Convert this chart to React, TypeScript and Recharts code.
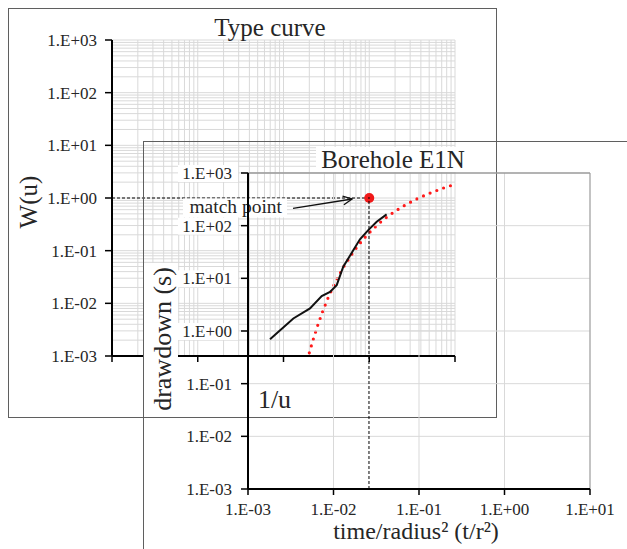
import React from "react";
import {
  CartesianGrid,
  ComposedChart,
  Line,
  ReferenceDot,
  ReferenceLine,
  XAxis,
  YAxis,
} from "recharts";

const PAGE_W = 627;
const PAGE_H = 549;
const SERIF = '"Liberation Serif", "Times New Roman", Times, serif';
const INK = "#262626";
const FRAME = "#5f5f5f";
const GRID = "#d9d9d9";

// Type curve: Theis well function W(u) against 1/u
const INV_U = [0.2, 0.2222, 0.25, 0.2857, 0.3333, 0.4, 0.5, 0.6667, 0.8333, 1, 1.25, 1.4286, 1.6667, 2, 2.5, 3.3333, 4, 5, 7.1429, 10];
const W_U = [0.001148, 0.002073, 0.003779, 0.00697, 0.01305, 0.02491, 0.0489, 0.1, 0.1584, 0.2194, 0.3106, 0.3738, 0.4544, 0.5598, 0.7024, 0.9057, 1.0443, 1.2227, 1.524, 1.8229];

// Borehole E1N: drawdown against time/radius²
const T_R2 = [0.00181, 0.00339, 0.00531, 0.00728, 0.0091, 0.0109, 0.013, 0.0171, 0.0204, 0.0255, 0.032, 0.0418];
const DRAWDOWN = [0.7, 1.73, 2.68, 4.59, 5.53, 7.43, 16.6, 34.4, 55, 82.4, 119, 164];

// match point, in both sets of axes
const MATCH_INV_U = 1;
const MATCH_W = 1;
const MATCH_T_R2 = 0.026;
const MATCH_S = 350;
const ARROW_FROM = { x: 0.00336, y: 212 };
const ARROW_TO = { x: 0.0165, y: 321 };

const X_TICKS = [0.001, 0.01, 0.1, 1, 10];
const Y_TICKS = [0.001, 0.01, 0.1, 1, 10, 100, 1000];
const MINOR_STEPS = [2, 3, 4, 5, 6, 7, 8, 9];

// minor log grid: 2..9 inside every decade
const minorGrid = (ticks: number[]) =>
  ticks.slice(0, -1).flatMap((d) => MINOR_STEPS.map((m) => Number((m * d).toPrecision(3))));

const fmtExp = (v: number) => {
  const e = Math.round(Math.log10(v));
  return `1.E${e < 0 ? "-" : "+"}${String(Math.abs(e)).padStart(2, "0")}`;
};

const typeData = INV_U.map((x, i) => ({ invU: x, w: W_U[i] }));
const boreData = T_R2.map((x, i) => ({ t: x, s: DRAWDOWN[i] }));

const textStyle = { fontFamily: SERIF, fill: INK };

const NoTick = () => <g />;

const TypeYTick = ({ x, y, payload }: any) => (
  <text x={x} y={y} dy="0.35em" textAnchor="end" fontSize={17} style={textStyle}>
    {fmtExp(payload.value)}
  </text>
);

const BoreYTick = ({ x, y, payload }: any) => (
  <g>
    <rect x={x - 54} y={y - 8} width={60} height={17} fill="#fff" />
    <text x={x} y={y} dy="0.35em" textAnchor="end" fontSize={17} style={textStyle}>
      {fmtExp(payload.value)}
    </text>
  </g>
);

const BoreXTick = ({ x, y, payload }: any) => (
  <text x={x} y={y} dy="0.71em" textAnchor="middle" fontSize={17} style={textStyle}>
    {fmtExp(payload.value)}
  </text>
);

const MatchArrow = ({ x1, y1, x2, y2 }: any) => {
  const a = Math.atan2(y2 - y1, x2 - x1);
  const len = 10;
  const spread = 0.45;
  const hx1 = x2 - len * Math.cos(a - spread);
  const hy1 = y2 - len * Math.sin(a - spread);
  const hx2 = x2 - len * Math.cos(a + spread);
  const hy2 = y2 - len * Math.sin(a + spread);
  return (
    <g>
      <rect x={x1 - 110} y={y1 - 10} width={104} height={19} fill="#fff" />
      <text x={x1 - 11} y={y1 + 5} textAnchor="end" fontSize={19.5} style={textStyle}>
        match point
      </text>
      <line x1={x1} y1={y1} x2={x2} y2={y2} stroke="#111" strokeWidth={1.3} />
      <polyline
        points={`${hx1},${hy1} ${x2},${y2} ${hx2},${hy2}`}
        fill="none"
        stroke="#111"
        strokeWidth={1.3}
      />
    </g>
  );
};

function TypeCurveChart() {
  return (
    <ComposedChart
      width={PAGE_W}
      height={PAGE_H}
      data={typeData}
      margin={{ top: 40, right: 172, bottom: 133, left: 12 }}
    >
      <CartesianGrid stroke={GRID} />
      {minorGrid(Y_TICKS).map((v) => (
        <ReferenceLine key={`h${v}`} y={v} stroke={GRID} strokeWidth={1} />
      ))}
      {minorGrid(X_TICKS).map((v) => (
        <ReferenceLine key={`v${v}`} x={v} stroke={GRID} strokeWidth={1} />
      ))}
      <XAxis
        dataKey="invU"
        type="number"
        scale="log"
        domain={[0.001, 10]}
        ticks={X_TICKS}
        allowDataOverflow
        height={60}
        tickSize={6}
        tick={NoTick}
        axisLine={{ stroke: "#000", strokeWidth: 2 }}
        tickLine={{ stroke: "#000", strokeWidth: 1.5 }}
        label={(p: any) => {
          const vb = p.viewBox;
          return (
            <text x={vb.x + vb.width / 2 - 9} y={vb.y + 52} textAnchor="middle" fontSize={26} style={textStyle}>
              1/u
            </text>
          );
        }}
      />
      <YAxis
        type="number"
        scale="log"
        domain={[0.001, 1000]}
        ticks={Y_TICKS}
        allowDataOverflow
        width={100}
        tickSize={7}
        tickMargin={8}
        tick={TypeYTick}
        axisLine={{ stroke: "#000", strokeWidth: 2 }}
        tickLine={{ stroke: "#000", strokeWidth: 1.5 }}
        label={(p: any) => {
          const vb = p.viewBox;
          const cx = vb.x + 25;
          const cy = vb.y + vb.height / 2 + 4;
          return (
            <text x={cx} y={cy} transform={`rotate(-90 ${cx} ${cy})`} textAnchor="middle" fontSize={25} style={textStyle}>
              W(u)
            </text>
          );
        }}
      />
      <ReferenceLine
        segment={[
          { x: 0.001, y: MATCH_W },
          { x: MATCH_INV_U, y: MATCH_W },
        ]}
        stroke="#000"
        strokeWidth={1}
        strokeDasharray="3 2"
      />
      <Line
        dataKey="w"
        type="linear"
        stroke="#ff1a1a"
        strokeWidth={3.2}
        strokeDasharray="0 7.2"
        strokeLinecap="round"
        dot={false}
        isAnimationActive={false}
      />
      <ReferenceDot x={MATCH_INV_U} y={MATCH_W} r={5} fill="#f01818" stroke="none" />
      <text x={270} y={36} textAnchor="middle" fontSize={25} style={textStyle}>
        Type curve
      </text>
    </ComposedChart>
  );
}

function BoreholeChart() {
  return (
    <ComposedChart
      width={PAGE_W}
      height={PAGE_H}
      data={boreData}
      margin={{ top: 173, right: 37, bottom: 0, left: 148 }}
    >
      <rect x={316} y={147} width={156} height={25} fill="#fff" />
      <text x={393} y={168} textAnchor="middle" fontSize={25} style={textStyle}>
        Borehole E1N
      </text>
      <CartesianGrid stroke={GRID} />
      <ReferenceLine y={1000} stroke="#7a7a7a" strokeWidth={1.2} />
      <ReferenceLine x={10} stroke="#9a9a9a" strokeWidth={1} />
      <ReferenceLine
        segment={[
          { x: MATCH_T_R2, y: 0.001 },
          { x: MATCH_T_R2, y: MATCH_S },
        ]}
        stroke="#000"
        strokeWidth={1}
        strokeDasharray="3 2"
      />
      <Line
        dataKey="s"
        type="linear"
        stroke="#111"
        strokeWidth={2}
        dot={false}
        isAnimationActive={false}
      />
      <XAxis
        dataKey="t"
        type="number"
        scale="log"
        domain={[0.001, 10]}
        ticks={X_TICKS}
        allowDataOverflow
        height={60}
        tickSize={6}
        tickMargin={8}
        tick={BoreXTick}
        axisLine={{ stroke: "#000", strokeWidth: 2 }}
        tickLine={{ stroke: "#000", strokeWidth: 1.5 }}
        label={(p: any) => {
          const vb = p.viewBox;
          return (
            <text x={vb.x + vb.width / 2 - 3} y={vb.y + 50} textAnchor="middle" fontSize={24} style={textStyle}>
              time/radius² (t/r²)
            </text>
          );
        }}
      />
      <YAxis
        type="number"
        scale="log"
        domain={[0.001, 1000]}
        ticks={Y_TICKS}
        allowDataOverflow
        width={100}
        tickSize={7}
        tickMargin={9}
        tick={BoreYTick}
        axisLine={{ stroke: "#000", strokeWidth: 2 }}
        tickLine={{ stroke: "#000", strokeWidth: 1.5 }}
        label={(p: any) => {
          const vb = p.viewBox;
          const cx = vb.x + 23;
          const cy = vb.y + vb.height / 2 + 8;
          return (
            <g>
              <rect x={vb.x - 4} y={cy - 76} width={34} height={150} fill="#fff" />
              <text x={cx} y={cy} transform={`rotate(-90 ${cx} ${cy})`} textAnchor="middle" fontSize={26} style={textStyle}>
                drawdown (s)
              </text>
            </g>
          );
        }}
      />
      <ReferenceLine segment={[ARROW_FROM, ARROW_TO]} shape={MatchArrow} />
    </ComposedChart>
  );
}

export default function App() {
  const layer = { position: "absolute" as const, left: 0, top: 0 };
  return (
    <div style={{ position: "absolute", left: 0, top: 0, width: PAGE_W, height: PAGE_H, overflow: "hidden", background: "#fff" }}>
      <div style={{ position: "absolute", left: 8, top: 8, width: 489, height: 410, boxSizing: "border-box", border: `1px solid ${FRAME}` }} />
      <div style={layer}>
        <TypeCurveChart />
      </div>
      <div style={{ position: "absolute", left: 143, top: 141, width: 600, height: 500, borderLeft: `1px solid ${FRAME}`, borderTop: `1px solid ${FRAME}` }} />
      <div style={layer}>
        <BoreholeChart />
      </div>
    </div>
  );
}
